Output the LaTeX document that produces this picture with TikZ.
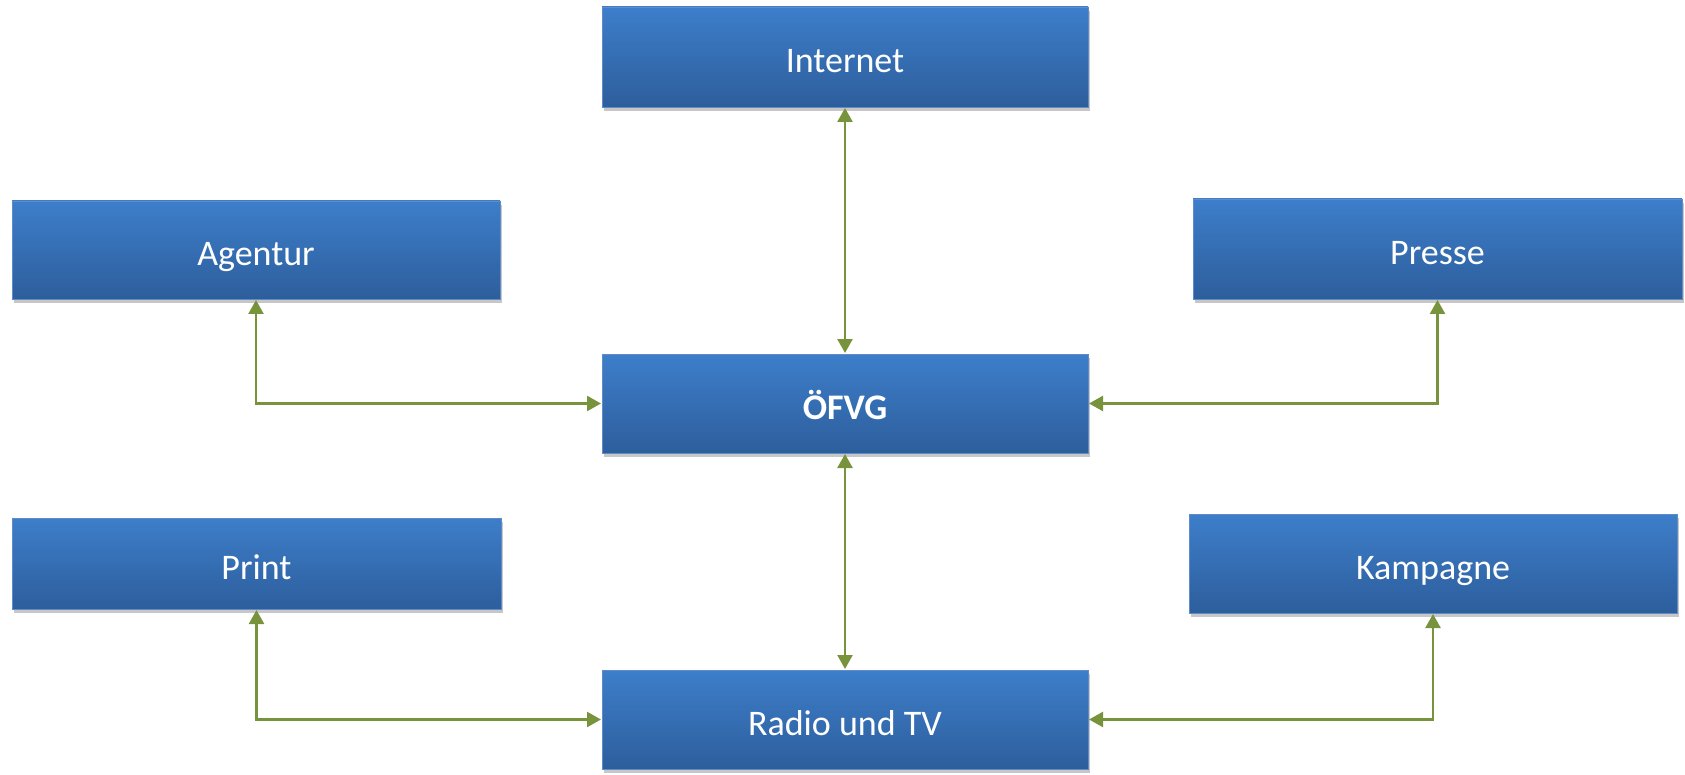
\documentclass[tikz,border=0pt]{standalone}
\usepackage{fontspec}
\setmainfont{Carlito}
\usetikzlibrary{arrows.meta,shadows}
\definecolor{boxtop}{RGB}{61,126,202}
\definecolor{boxbot}{RGB}{45,94,156}
\definecolor{boxedge}{RGB}{95,140,200}
\definecolor{linkgreen}{RGB}{119,147,60}
\tikzset{
  mbox/.style={rectangle, inner sep=0pt, outer sep=0pt,
    top color=boxtop, bottom color=boxbot, draw=boxedge, line width=0.8pt,
    drop shadow={shadow xshift=1.5pt, shadow yshift=-4pt, opacity=0.22, fill=black},
    text=white, font=\fontsize{36}{40}\selectfont,
    text height=31pt, text depth=0pt},
  link/.style={draw=linkgreen, line width=2.4pt,
    {Triangle[length=14pt,width=15pt]}-{Triangle[length=14pt,width=15pt]},
    shorten <=1pt, shorten >=1pt}
}
\begin{document}
\begin{tikzpicture}[x=1pt,y=-1pt]
\useasboundingbox (0,0) rectangle (1685,775);
\node[mbox, minimum width=486pt, minimum height=100pt] (internet) at (845,57) {Internet};
\node[mbox, minimum width=488pt, minimum height=98pt] (agentur) at (256,250) {Agentur};
\node[mbox, minimum width=489pt, minimum height=100pt] (presse) at (1437.5,249) {Presse};
\node[mbox, minimum width=486pt, minimum height=99pt, font=\fontsize{36}{40}\selectfont\bfseries] (ofvg) at (845,403.5) {ÖFVG};
\node[mbox, minimum width=489pt, minimum height=91pt] (print) at (256.5,563.5) {Print};
\node[mbox, minimum width=488pt, minimum height=99pt] (kampagne) at (1433,563.5) {Kampagne};
\node[mbox, minimum width=486pt, minimum height=99pt] (radio) at (845,719.5) {Radio und TV};
\draw[link] (internet.south) -- (ofvg.north);
\draw[link] (ofvg.south) -- (radio.north);
\draw[link] (agentur.south) |- (ofvg.west);
\draw[link] (presse.south) |- (ofvg.east);
\draw[link] (print.south) |- (radio.west);
\draw[link] (kampagne.south) |- (radio.east);
\end{tikzpicture}
\end{document}
